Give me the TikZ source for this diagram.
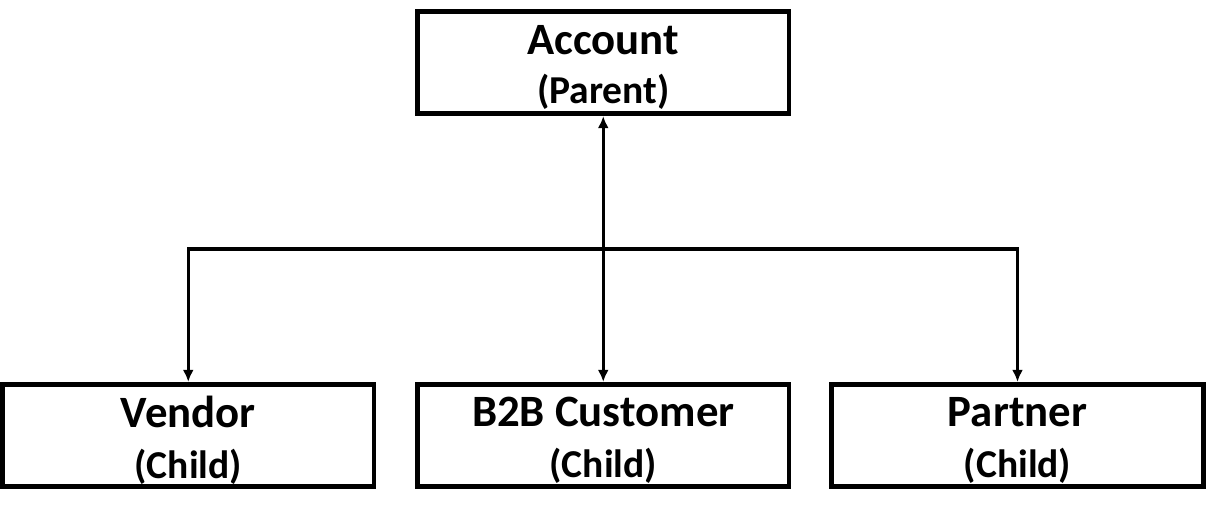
\documentclass[tikz,border=0pt]{standalone}
\usepackage{fontspec}
\setmainfont{Carlito}
\usetikzlibrary{arrows.meta}

\tikzset{
  box/.style={draw, line width=2.7pt, minimum width=7.43cm, minimum height=2.05cm, inner sep=0pt},
  boxtext/.style={align=center, inner sep=0pt, font=\fontsize{25.5}{#1}\selectfont\bfseries},
  link/.style={line width=1.9pt},
}
\newcommand{\boxlabel}[2]{#1\\{\fontsize{22.5}{\baselineskip}\selectfont #2}}

\begin{document}
\begin{tikzpicture}[x=0.02cm, y=-0.02cm]
        \useasboundingbox (0,0) rectangle (1206,509);

        \node[box, label={[boxtext=27.5pt, yshift=-0.1cm]center:\boxlabel{Account}{(Parent)}}] (acct) at (603.25, 62.5) {};

        \node[box, label={[boxtext=29pt, yshift=-0.1cm]center:\boxlabel{Vendor}{(Child)}}]       (vendor)  at (188.25, 435.5) {};
        \node[box, label={[boxtext=29pt, yshift=-0.1cm]center:\boxlabel{B2B Customer}{(Child)}}] (btob)    at (603.25, 435.5) {};
        \node[box, label={[boxtext=29pt, yshift=-0.1cm]center:\boxlabel{Partner}{(Child)}}]      (partner) at (1017.5, 435.5) {};

        \coordinate (fork) at (603.25, 249);

        \draw[link, {Latex[length=0.24cm, width=0.22cm]}-{Latex[length=0.24cm, width=0.22cm]}] (acct) -- (btob);
        \draw[link, -{Latex[length=0.24cm, width=0.22cm]}] (fork) -| (vendor);
        \draw[link, -{Latex[length=0.24cm, width=0.22cm]}] (fork) -| (partner);
\end{tikzpicture}
\end{document}
